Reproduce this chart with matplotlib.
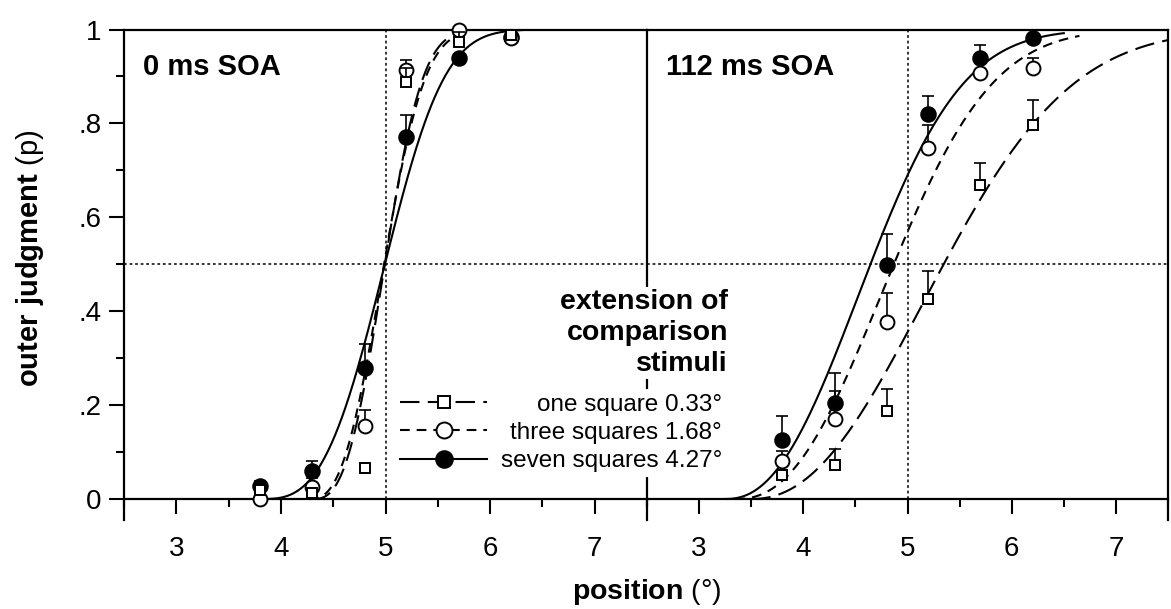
import numpy as np
import matplotlib
matplotlib.use("Agg")
import matplotlib.pyplot as plt
from matplotlib.lines import Line2D
from matplotlib.ticker import MultipleLocator, FixedLocator, FixedFormatter
from matplotlib.legend_handler import HandlerLine2D

plt.rcParams['font.family'] = ['Liberation Sans', 'DejaVu Sans']
plt.rcParams['mathtext.fontset'] = 'custom'
plt.rcParams['mathtext.rm'] = 'Liberation Sans'
plt.rcParams['mathtext.bf'] = 'Liberation Sans:bold'
plt.rcParams['lines.scale_dashes'] = False

# ------------------------------------------------
# data
# ------------------------------------------------
positions = [3.8, 4.3, 4.8, 5.2, 5.7, 6.2]
panel_titles = ["0 ms SOA", "112 ms SOA"]
series_names = ["one square 0.33°", "three squares 1.68°", "seven squares 4.27°"]
ytick_vals = [0, 0.2, 0.4, 0.6, 0.8, 1.0]
ytick_labels = ["0", ".2", ".4", ".6", ".8", "1"]
xtick_vals = [3, 4, 5, 6, 7]
chance_level = 0.5
reference_pos = 5.0

# 0 ms SOA: proportions and upper error bars
soa0_one = [0.019, 0.013, 0.065, 0.889, 0.974, 0.988]
soa0_three = [0.0, 0.025, 0.155, 0.914, 1.0, 0.981]
soa0_seven = [0.028, 0.060, 0.280, 0.772, 0.939, 0.985]
soa0_one_err = [0.010, 0.010, 0.010, 0.030, 0.020, 0.005]
soa0_three_err = [0.010, 0.020, 0.035, 0.020, 0.0, 0.005]
soa0_seven_err = [0.010, 0.020, 0.050, 0.046, 0.0, 0.0]

# 112 ms SOA
soa112_one = [0.051, 0.072, 0.187, 0.427, 0.669, 0.797]
soa112_three = [0.082, 0.170, 0.378, 0.747, 0.907, 0.917]
soa112_seven = [0.126, 0.204, 0.498, 0.820, 0.939, 0.981]
soa112_one_err = [0.010, 0.034, 0.047, 0.059, 0.046, 0.053]
soa112_three_err = [0.021, 0.061, 0.061, 0.050, 0.032, 0.022]
soa112_seven_err = [0.050, 0.064, 0.067, 0.038, 0.028, 0.005]

# fitted psychometric functions: onset, scale, shape, end of drawn range
fit0_one = (4.30, 0.79, 2.8, 5.75)
fit0_three = (4.27, 0.82, 2.7, 5.80)
fit0_seven = (3.80, 1.346, 3.06, 6.30)
fit112_one = (3.50, 2.182, 2.2, 7.50)
fit112_three = (3.35, 1.775, 2.35, 6.65)
fit112_seven = (3.25, 1.635, 2.3, 6.50)


def weibull(x, onset, scale, shape):
    return 1 - np.exp(-((x - onset) / scale) ** shape)


styles = [
    dict(marker='s', mfc='white', ms=7, dashes=(14, 6)),
    dict(marker='o', mfc='white', ms=10, dashes=(7, 5)),
    dict(marker='o', mfc='black', ms=10.5, dashes=None),
]


class MarkerAtEnd(HandlerLine2D):
    """legend key with the marker at the right end of the line"""
    def get_xdata(self, legend, xdescent, ydescent, width, height, fontsize):
        xdata = np.array([-xdescent, width - xdescent])
        return xdata, np.array([width - xdescent - 4.0])


def draw_panel(ax, title, values, errors, fits):
    ax.axhline(chance_level, color='k', lw=1.1, ls=(0, (2, 2)), zorder=1)
    ax.axvline(reference_pos, color='k', lw=1.1, ls=(0, (2, 2)), zorder=1)
    for i in [2, 1, 0]:
        st = styles[i]
        onset, scale, shape, end = fits[i]
        xx = np.linspace(onset, end, 300)
        line, = ax.plot(xx, weibull(xx, onset, scale, shape), color='k', lw=1.5, zorder=2)
        if st['dashes'] is not None:
            line.set_dashes(st['dashes'])
        ax.errorbar(positions, values[i], yerr=[np.zeros(len(errors[i])), errors[i]],
                    fmt='none', ecolor='k', elinewidth=1.2, capsize=4, capthick=1.2,
                    zorder=3 + (2 - i))
        ax.plot(positions, values[i], linestyle='none', marker=st['marker'],
                mfc=st['mfc'], mec='k', mew=1.4, ms=st['ms'], clip_on=False,
                zorder=3.5 + (2 - i))
    ax.text(0.036, 0.903, title, transform=ax.transAxes, fontsize=21,
            fontweight='bold', va='baseline')
    ax.set_xlim(2.5, 7.5)
    ax.set_ylim(0, 1)
    ax.xaxis.set_major_locator(FixedLocator(xtick_vals))
    ax.xaxis.set_minor_locator(MultipleLocator(0.5))
    ax.tick_params(axis='both', which='major', direction='out', length=11, width=1.5,
                   labelsize=20)
    ax.tick_params(axis='both', which='minor', direction='out', length=6, width=1.5)
    ax.tick_params(axis='x', which='major', pad=16)
    for s in ax.spines.values():
        s.set_linewidth(1.6)


W, H = 1171, 609
fig = plt.figure(figsize=(W / 100, H / 100), dpi=100)
ax0 = fig.add_axes([124 / W, 1 - 499 / H, 523 / W, 469.5 / H])
ax1 = fig.add_axes([647 / W, 1 - 499 / H, 521 / W, 469.5 / H])
ax1.patch.set_visible(False)

draw_panel(ax0, panel_titles[0], [soa0_one, soa0_three, soa0_seven],
           [soa0_one_err, soa0_three_err, soa0_seven_err],
           [fit0_one, fit0_three, fit0_seven])
draw_panel(ax1, panel_titles[1], [soa112_one, soa112_three, soa112_seven],
           [soa112_one_err, soa112_three_err, soa112_seven_err],
           [fit112_one, fit112_three, fit112_seven])

# y axis only on the left panel
ax0.yaxis.set_major_locator(FixedLocator(ytick_vals))
ax0.yaxis.set_major_formatter(FixedFormatter(ytick_labels))
ax0.yaxis.set_minor_locator(MultipleLocator(0.1))
ax0.tick_params(axis='y', which='major', pad=5)
ax1.tick_params(axis='y', which='both', left=False, labelleft=False)
ax1.spines['left'].set_visible(False)

# panel borders extend below the x axis
ax0.spines['left'].set_bounds(-0.045, 1)
ax0.spines['right'].set_bounds(-0.045, 1)
ax1.spines['right'].set_bounds(-0.045, 1)

# axis labels
fig.text(647 / W, 1 - 599 / H, r'$\bf{position}$ (°)', ha='center', va='baseline',
         fontsize=20.5)
fig.text(30 / W, 1 - 258 / H, r'$\bf{outer\ judgment}$ (p)', rotation=90,
         ha='center', va='center', fontsize=21)

# legend title (baseline of the last line)
fig.text(728 / W, 1 - 371 / H, "extension of\ncomparison\nstimuli", ha='right',
         va='baseline', multialignment='right', fontsize=20.5, fontweight='bold',
         linespacing=1.25, bbox=dict(facecolor='white', edgecolor='none', pad=1.5),
         zorder=6)

# legend: keys on the left, labels right-aligned
handles = []
for st in styles:
    h = Line2D([], [], color='k', lw=1.5, marker=st['marker'], mfc=st['mfc'],
               mec='k', mew=1.4, ms=st['ms'] + 1.5)
    if st['dashes'] is not None:
        h.set_dashes(st['dashes'])
    handles.append(h)

leg_kw = dict(fontsize=17.5, labelspacing=0.25, borderpad=0.2, borderaxespad=0,
              bbox_transform=fig.transFigure)
leg_keys = fig.legend(handles, [' '] * 3, loc='upper left',
                      bbox_to_anchor=(395 / W, 1 - 389 / H), frameon=False,
                      handlelength=3.6, handletextpad=0,
                      handler_map={Line2D: MarkerAtEnd()}, **leg_kw)
blank = [Line2D([], [], linestyle='none') for _ in series_names]
leg_text = fig.legend(blank, series_names, loc='upper right',
                      bbox_to_anchor=(727 / W, 1 - 389 / H), markerfirst=False,
                      handlelength=0, handletextpad=0, frameon=True, fancybox=False,
                      facecolor='white', edgecolor='none', framealpha=1, **leg_kw)

fig.savefig("out.png", dpi=100)
